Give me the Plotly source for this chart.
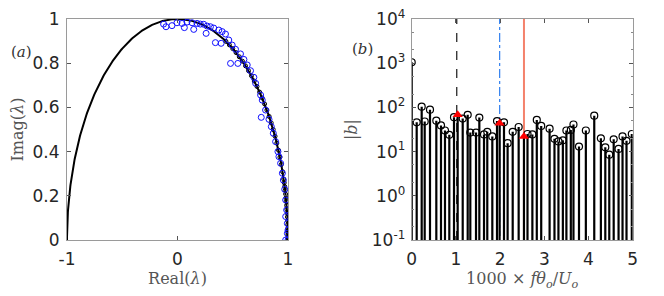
import plotly.graph_objects as go
import numpy as np

# ---------------- data: panel (a) ----------------
blue_re = [-0.126, -0.104, -0.050, -0.005, 0.041, 0.062, 0.086, 0.132, 0.177, 0.147, 0.207,
           0.237, 0.268, 0.259, 0.298, 0.328, 0.374, 0.404, 0.434, 0.343, 0.395, 0.464, 0.495,
           0.525, 0.480, 0.546, 0.570, 0.601, 0.631, 0.661, 0.691, 0.707, 0.758, 0.752, 0.767,
           0.797, 0.828, 0.849, 0.867, 0.888, 0.909, 0.918, 0.933, 0.949, 0.958, 0.970, 0.979,
           0.979, 0.994, 1.000, 0.979, 1.000, 0.988, 0.994]
blue_im = [0.977, 0.965, 0.970, 0.983, 0.980, 0.961, 0.986, 0.983, 0.980, 0.953, 0.977,
           0.976, 0.968, 0.935, 0.965, 0.959, 0.950, 0.943, 0.932, 0.893, 0.890, 0.905, 0.882,
           0.863, 0.799, 0.799, 0.842, 0.817, 0.792, 0.766, 0.736, 0.709, 0.555, 0.656, 0.633,
           0.588, 0.546, 0.513, 0.483, 0.445, 0.400, 0.377, 0.347, 0.302, 0.271, 0.229, 0.181,
           0.106, 0.075, 0.045, 0.000, 0.000, 0.136, 0.030]
# angles (deg) of the black eigenvalues lying on the unit circle
black_ang = [0, 0.5, 1, 1.5, 2, 2.5, 3, 4, 5, 6, 7, 8, 9, 10, 11, 12, 13, 14, 15, 16, 18, 20,
             22, 24, 26, 28, 30, 32, 34, 36, 38, 40, 42, 44, 46, 48, 50, 52, 54, 56, 58, 60,
             62, 64]

# ---------------- data: panel (b) ----------------
freq = [0.0, 0.113, 0.226, 0.294, 0.414, 0.557, 0.663, 0.753, 0.851, 0.957, 1.04, 1.154,
        1.267, 1.326, 1.455, 1.53, 1.636, 1.71, 1.824, 1.93, 1.99, 2.088, 2.17, 2.285, 2.42,
        2.54, 2.62, 2.73, 2.83, 2.93, 3.12, 3.23, 3.32, 3.42, 3.50, 3.60, 3.66, 3.785, 3.94,
        4.13, 4.28, 4.38, 4.47, 4.57, 4.68, 4.77, 4.86, 4.98]
amp = [1050, 46, 104, 48, 89, 50, 39, 30, 24, 60, 68, 56, 68, 27, 27, 59, 24.5, 28, 22, 49,
       44, 46, 15.5, 28, 36, 22, 25, 24.5, 52, 38, 33, 19.5, 17, 18, 30, 31, 41, 13, 30, 65,
       20, 12.5, 8.5, 19, 11.5, 22, 17.5, 25]
sel_freq = [1.04, 1.99, 2.54]
sel_amp = [68, 44, 22]
vline_x = [1.02, 1.99, 2.54]
vline_color = ["black", "#2f7fef", "#f4826c"]
vline_dash = ["dash", "dashdot", "solid"]
vline_width = [1.1, 1.2, 2]

ytick_b = [-1, 0, 1, 2, 3, 4]

W, H, OFF = 664, 296, 8   # page body margin offset


def px_x(p):
    return (p - OFF) / W


def px_y(p):
    return 1 - (p - OFF) / H


fig = go.Figure()

# panel (a)
th = np.linspace(0, np.pi, 400)
fig.add_trace(go.Scatter(x=np.cos(th), y=np.sin(th), mode="lines",
                         line=dict(color="black", width=2), xaxis="x", yaxis="y",
                         showlegend=False, hoverinfo="skip"))
ba = np.deg2rad(np.array(black_ang))
fig.add_trace(go.Scatter(x=np.cos(ba), y=np.sin(ba), mode="markers",
                         marker=dict(symbol="circle-open", size=4, color="black",
                                     line=dict(width=1)),
                         xaxis="x", yaxis="y", showlegend=False))
fig.add_trace(go.Scatter(x=blue_re, y=blue_im, mode="markers",
                         marker=dict(symbol="circle-open", size=6, color="#1010ff",
                                     line=dict(width=1)),
                         xaxis="x", yaxis="y", showlegend=False))

# panel (b) vertical lines
for xv, c, d, w in zip(vline_x, vline_color, vline_dash, vline_width):
    fig.add_trace(go.Scatter(x=[xv, xv], y=[0.1, 1e4], mode="lines",
                             line=dict(color=c, dash=d, width=w),
                             xaxis="x2", yaxis="y2", showlegend=False))

# stems
sx, sy = [], []
for f, a in zip(freq, amp):
    sx += [f, f, None]
    sy += [0.1, a, None]
fig.add_trace(go.Scatter(x=sx, y=sy, mode="lines", line=dict(color="black", width=2.2),
                         xaxis="x2", yaxis="y2", showlegend=False))
cf = [f for f in freq if f not in sel_freq]
ca = [a for f, a in zip(freq, amp) if f not in sel_freq]
fig.add_trace(go.Scatter(x=cf, y=ca, mode="markers",
                         marker=dict(symbol="circle-open", size=7, color="black",
                                     line=dict(width=1.2)),
                         xaxis="x2", yaxis="y2", showlegend=False))
fig.add_trace(go.Scatter(x=sel_freq, y=sel_amp, mode="markers",
                         marker=dict(symbol="triangle-up", size=9, color="#ff0000"),
                         xaxis="x2", yaxis="y2", showlegend=False))

tickfont = dict(family="DejaVu Sans", size=17, color="#262626")
titlefont = dict(family="DejaVu Serif", size=16, color="#555555")
axcommon = dict(showgrid=False, zeroline=False, showline=True, linecolor="#9a9a9a",
                linewidth=1, mirror="ticks", ticks="inside", ticklen=4,
                tickcolor="#555555", tickfont=tickfont, ticklabeloverflow="allow")

fig.update_layout(
    width=W, height=H, margin=dict(l=0, r=0, t=0, b=0, autoexpand=False),
    paper_bgcolor="white", plot_bgcolor="white",
    xaxis=dict(domain=[px_x(67), px_x(288)], range=[-1, 1], tickvals=[-1, 0, 1],
               ticktext=["-1", "0", "1"], anchor="y", ticklabelstandoff=4,
               title=dict(text="Real(<i>λ</i>)", font=titlefont, standoff=0), **axcommon),
    yaxis=dict(domain=[px_y(240), px_y(19)], range=[0, 1],
               tickvals=[0, 0.2, 0.4, 0.6, 0.8, 1],
               ticktext=["0", "0.2", "0.4", "0.6", "0.8", "1"], anchor="x",
               ticklabelstandoff=3,
               title=dict(text="Imag(<i>λ</i>)", font=titlefont, standoff=4), **axcommon),
    xaxis2=dict(domain=[px_x(411.7), px_x(632.7)], range=[0, 5],
                tickvals=[0, 1, 2, 3, 4, 5], anchor="y2", ticklabelstandoff=4,
                title=dict(text="1000 × <i>fθ</i><sub><i>o</i></sub>/<i>U</i><sub><i>o</i></sub>",
                           font=titlefont, standoff=0), **axcommon),
    yaxis2=dict(domain=[px_y(240), px_y(19)], type="log", range=[-1, 4],
                tickvals=[10.0**k for k in ytick_b],
                ticktext=["10<sup>%d</sup>" % k for k in ytick_b], anchor="x2",
                ticklabelstandoff=2,
                minor=dict(ticks="inside", ticklen=2, tickcolor="#888888"),
                title=dict(text="|<i>b</i>|", font=titlefont, standoff=10), **axcommon),
    annotations=[
        dict(text="(<i>a</i>)", x=px_x(34), y=px_y(52), xref="paper", yref="paper",
             xanchor="right", yanchor="middle", showarrow=False,
             font=dict(family="DejaVu Serif", size=15, color="#333333")),
        dict(text="(<i>b</i>)", x=px_x(375), y=px_y(49), xref="paper", yref="paper",
             xanchor="right", yanchor="middle", showarrow=False,
             font=dict(family="DejaVu Serif", size=15, color="#333333")),
    ],
)

fig.write_html("out.html")
